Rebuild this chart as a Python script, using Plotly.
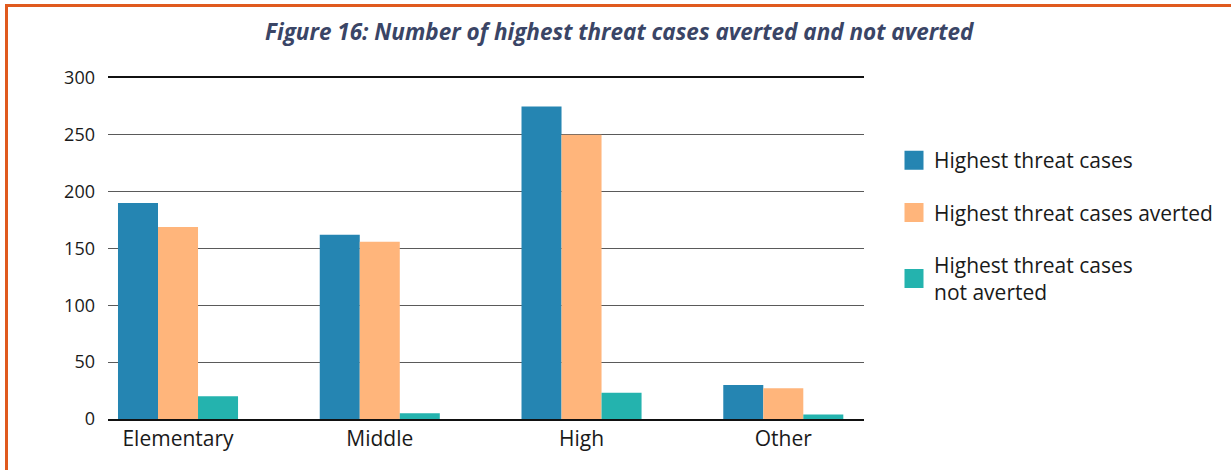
import plotly.graph_objects as go

categories = ["Elementary", "Middle", "High", "Other"]
series_names = ["Highest threat cases", "Highest threat cases averted", "Highest threat cases<br>not averted"]
highest_threat = [190, 162, 275, 30]
averted = [169, 156, 250, 27]
not_averted = [20, 5, 23, 4]
y_ticks = [0, 50, 100, 150, 200, 250, 300]

colors = ["#2585b2", "#ffb57b", "#24b3ae"]
FONT = "Open Sans"

W, H = 1231, 470
L, R, T, B = 108, 367, 78, 51

fig = go.Figure()
for name, vals, col in zip(series_names, [highest_threat, averted, not_averted], colors):
    fig.add_trace(go.Bar(x=categories, y=vals, marker=dict(color=col, line=dict(width=0)),
                         showlegend=False, hoverinfo="y"))
for i, (name, col) in enumerate(zip(series_names, colors)):
    fig.add_trace(go.Scatter(x=[None], y=[None], mode="markers", name=name, legendgroup=str(i),
                             marker=dict(symbol="square", size=16, color=col, line=dict(color=col, width=3))))

pw, ph = W - L - R, H - T - B
def px(xp):
    return (xp - L) / pw
def py(yp):
    return (H - B - yp) / ph

fig.update_layout(
    width=W, height=H,
    margin=dict(l=L, r=R, t=T, b=B),
    paper_bgcolor="white", plot_bgcolor="white",
    barmode="group", bargap=0.405, bargroupgap=0,
    font=dict(family=FONT, size=20, color="#1a1a1a"),
    title=dict(text="<b><i>Figure 16: Number of highest threat cases averted and not averted</i></b>",
               x=0.503, xref="container", xanchor="center", y=1 - 32 / H, yref="container", yanchor="middle",
               font=dict(family=FONT, size=22.5, color="#3a4566")),
    legend=dict(x=px(894), xanchor="left", y=py(140), yanchor="top",
                font=dict(family=FONT, size=21, color="#1a1a1a"),
                tracegroupgap=22, bgcolor="rgba(0,0,0,0)"),
    xaxis=dict(range=[-0.347, 3.40], showgrid=False, showline=True, linecolor="#111111", linewidth=2.2,
               mirror=True, ticks="", tickfont=dict(size=21)),
    yaxis=dict(range=[0, 300], tickvals=y_ticks, showgrid=True, gridcolor="#5a5a5a", gridwidth=1.3,
               zeroline=False, showline=False, ticks="", ticklabelstandoff=12, tickfont=dict(size=18)),
    shapes=[
        dict(type="rect", xref="paper", yref="paper", x0=px(6.5), x1=px(1240), y0=py(5.5), y1=py(480),
             line=dict(color="#e05a1e", width=3), fillcolor="rgba(0,0,0,0)", layer="above"),
    ],
)

fig.write_html("out.html", config={"displayModeBar": False},
               post_script="document.body.style.margin='0';document.body.style.overflow='hidden';window.scrollTo(0,0);")
